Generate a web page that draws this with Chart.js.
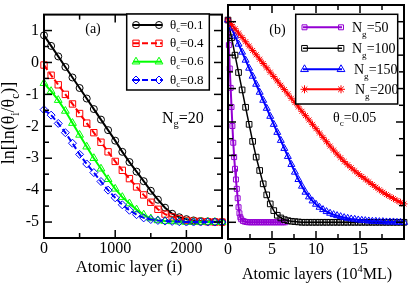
<!DOCTYPE html>
<html>
<head>
<meta charset="utf-8">
<title>ln[ln(θi/θc)] versus atomic layer</title>
<script src="https://cdn.jsdelivr.net/npm/chart.js"></script>
<style>
  html, body { margin:0; padding:0; background:#ffffff; }
  #wrap { position:relative; width:409px; height:285px; overflow:hidden; background:#ffffff; }
  #wrap canvas { position:absolute; left:0; top:0; }
</style>
</head>
<body>
<div id="wrap">
  <canvas id="chartA" width="409" height="285"></canvas>
  <canvas id="chartB" width="409" height="285"></canvas>
</div>
<script>
// ---------------- Panel (a): N_g = 20 ----------------
const layerA = [0,100,200,300,400,500,600,700,800,900,1000,1100,1200,1300,1400,1500,1600,1700,1800,1900,2000,2100,2200,2300,2400,2500];
const thetaC01 = [0.85,0.52,0.19,-0.14,-0.47,-0.80,-1.13,-1.46,-1.79,-2.12,-2.45,-2.80,-3.12,-3.42,-3.72,-4.02,-4.30,-4.55,-4.74,-4.85,-4.91,-4.95,-4.97,-4.98,-4.99,-5.00];
const thetaC04 = [-0.08,-0.40,-0.70,-1.00,-1.30,-1.60,-1.90,-2.20,-2.50,-2.80,-3.10,-3.38,-3.64,-3.90,-4.15,-4.38,-4.60,-4.75,-4.84,-4.90,-4.95,-4.97,-4.98,-4.99,-5.00,-5.00];
const thetaC06 = [-0.65,-0.90,-1.18,-1.52,-1.90,-2.27,-2.64,-3.00,-3.33,-3.66,-3.96,-4.22,-4.42,-4.61,-4.77,-4.89,-4.95,-4.97,-4.98,-4.99,-5.00,-5.00,-5.00,-5.00,-5.00,-5.00];
const thetaC08 = [-1.48,-1.65,-1.91,-2.20,-2.53,-2.88,-3.18,-3.45,-3.73,-4.00,-4.24,-4.46,-4.63,-4.77,-4.87,-4.92,-4.95,-4.97,-4.98,-4.99,-5.00,-5.00,-5.00,-5.00,-5.00,-5.00];
const thetaLabelsA = ['0.1','0.4','0.6','0.8'];
const xLabelsA = [0,1000,2000];
const xMajorA = [1000,2000];
const xMinorA = [500,1500];

// ---------------- Panel (b): θ_c = 0.05 ----------------
const layerB = [0,0.4,0.8,1.2,1.6,2,2.4,2.8,3.2,3.6,4,4.4,4.8,5.2,5.6,6,6.4,6.8,7.2,7.6,8,8.4,8.8,9.2,9.6,10,10.4,10.8,11.2,11.6,12,12.4,12.8,13.2,13.6,14,14.4,14.8,15.2,15.6,16,16.4,16.8,17.2,17.6,18,18.4,18.8,19.2,19.6,20];
const layerB50 = [0,0.1,0.2,0.3,0.4,0.5,0.6,0.7,0.8,0.9,1.0,1.1,1.2,1.3,1.4,1.5,1.7,1.9,2.1,2.3,2.5,2.7,2.9,3.1,3.3,3.5,3.7,3.9,4.1,4.3,4.5,4.7,4.9,5.1,5.3,5.5,5.7,5.9,6.1,6.3,6.5];
const ng50 = [1.05,0.30,-0.40,-0.98,-1.55,-2.12,-2.62,-3.05,-3.40,-3.72,-4.00,-4.28,-4.55,-4.73,-4.85,-4.91,-4.96,-4.98,-4.99,-5.00,-5.00,-5.00,-5.00,-5.00,-5.00,-5.00,-5.00,-5.00,-5.00,-5.00,-5.00,-5.00,-5.00,-5.00,-5.00,-5.00,-5.00,-5.00,-5.00,-5.00,-5.00];
const ng100 = [1.05,0.52,0.00,-0.52,-1.04,-1.56,-2.07,-2.58,-3.05,-3.45,-3.85,-4.18,-4.45,-4.65,-4.79,-4.87,-4.92,-4.95,-4.97,-4.98,-4.99,-5.00,-5.00,-5.00,-5.00,-5.00,-5.00,-5.00,-5.00,-5.00,-5.00,-5.00,-5.00,-5.00,-5.00,-5.00,-5.00,-5.00,-5.00,-5.00,-5.00,-5.00,-5.00,-5.00,-5.00,-5.00,-5.00,-5.00,-5.00,-5.00,-5.00];
const ng150 = [1.05,0.81,0.57,0.33,0.09,-0.15,-0.39,-0.63,-0.87,-1.11,-1.35,-1.59,-1.83,-2.07,-2.31,-2.55,-2.79,-3.03,-3.27,-3.50,-3.72,-3.92,-4.10,-4.24,-4.36,-4.46,-4.55,-4.62,-4.68,-4.73,-4.77,-4.80,-4.83,-4.86,-4.88,-4.90,-4.91,-4.93,-4.94,-4.95,-4.96,-4.97,-4.97,-4.98,-4.98,-4.99,-4.99,-4.99,-5.00,-5.00,-5.00];
const ng200 = [1.05,0.92,0.79,0.66,0.53,0.40,0.27,0.14,0.01,-0.12,-0.25,-0.38,-0.51,-0.64,-0.77,-0.90,-1.03,-1.16,-1.29,-1.42,-1.55,-1.68,-1.81,-1.94,-2.07,-2.20,-2.33,-2.46,-2.59,-2.72,-2.84,-2.96,-3.07,-3.18,-3.28,-3.37,-3.46,-3.55,-3.63,-3.71,-3.79,-3.87,-3.95,-4.03,-4.10,-4.17,-4.23,-4.29,-4.35,-4.40,-4.45];
const ngLabels = ['50','100','150','200'];
const xLabelsB = [0,5,10,15];
const xMajorB = [5,10,15];
const xMinorB = [2.5,7.5,12.5,17.5];

// shared y axis
const yLabels = [-5,-4,-3,-2,-1,0,1];
const yMinor = [-4.5,-3.5,-2.5,-1.5,-0.5,0.5];

// ---------------- helpers ----------------
const SERIF = '"Liberation Serif", "DejaVu Serif", serif';
const fnt = s => s + 'px ' + SERIF;
const PURPLE = '#9400d3', GREEN = '#00ff00';

function drawRich(ctx, parts, x, y, size, align) {
  const f = p => fnt(p[1] ? size * 0.65 : size);
  let w = 0;
  for (const p of parts) { ctx.font = f(p); w += ctx.measureText(p[0]).width; }
  let cx = align === 'center' ? x - w / 2 : x;
  ctx.textAlign = 'left';
  ctx.textBaseline = 'alphabetic';
  for (const p of parts) {
    ctx.font = f(p);
    const dy = p[1] === 1 ? size * 0.3 : (p[1] === 2 ? -size * 0.45 : 0);
    ctx.fillText(p[0], cx, y + dy);
    cx += ctx.measureText(p[0]).width;
  }
}

function marker(ctx, style, x, y, r) {
  ctx.beginPath();
  if (style === 'circle') {
    ctx.arc(x, y, r, 0, Math.PI * 2);
  } else if (style === 'rect') {
    const s = r * Math.SQRT1_2; ctx.rect(x - s, y - s, 2 * s, 2 * s);
  } else if (style === 'rectRot') {
    ctx.moveTo(x - r, y); ctx.lineTo(x, y - r); ctx.lineTo(x + r, y); ctx.lineTo(x, y + r); ctx.closePath();
  } else if (style === 'triangle') {
    let a = 0;
    ctx.moveTo(x + Math.sin(a) * r, y - Math.cos(a) * r);
    a += 2 * Math.PI / 3; ctx.lineTo(x + Math.sin(a) * r, y - Math.cos(a) * r);
    a += 2 * Math.PI / 3; ctx.lineTo(x + Math.sin(a) * r, y - Math.cos(a) * r);
    ctx.closePath();
  } else if (style === 'star') {
    const d = r * Math.SQRT1_2;
    ctx.moveTo(x - r, y); ctx.lineTo(x + r, y); ctx.moveTo(x, y - r); ctx.lineTo(x, y + r);
    ctx.moveTo(x - d, y - d); ctx.lineTo(x + d, y + d); ctx.moveTo(x - d, y + d); ctx.lineTo(x + d, y - d);
  }
  ctx.stroke();
}

function drawFrame(chart, xMaj, xMin, yMaj, yMin) {
  const {ctx, chartArea: a, scales: {x, y}} = chart;
  ctx.save();
  ctx.strokeStyle = '#000';
  ctx.setLineDash([]);
  ctx.lineWidth = 1.5;
  const seg = (x1, y1, x2, y2) => { ctx.beginPath(); ctx.moveTo(x1, y1); ctx.lineTo(x2, y2); ctx.stroke(); };
  const MAJ = 8, MIN = 5;
  xMaj.forEach(v => { const p = x.getPixelForValue(v); seg(p, a.bottom, p, a.bottom - MAJ); seg(p, a.top, p, a.top + MAJ); });
  xMin.forEach(v => { const p = x.getPixelForValue(v); seg(p, a.bottom, p, a.bottom - MIN); seg(p, a.top, p, a.top + MIN); });
  yMaj.forEach(v => { const p = y.getPixelForValue(v); seg(a.left, p, a.left + MAJ, p); seg(a.right, p, a.right - MAJ, p); });
  yMin.forEach(v => { const p = y.getPixelForValue(v); seg(a.left, p, a.left + MIN, p); seg(a.right, p, a.right - MIN, p); });
  ctx.lineWidth = 2;
  ctx.strokeRect(a.left, a.top, a.right - a.left, a.bottom - a.top);
  ctx.restore();
}

function drawLegend(ctx, box, rows, lx1, lx2, m1, m2, size) {
  ctx.save();
  ctx.fillStyle = '#fff';
  ctx.fillRect(box[0], box[1], box[2], box[3]);
  ctx.strokeStyle = '#000';
  ctx.lineWidth = 1.5;
  ctx.strokeRect(box[0], box[1], box[2], box[3]);
  rows.forEach(r => {
    ctx.strokeStyle = r.color;
    ctx.lineWidth = r.lw;
    ctx.setLineDash(r.dash);
    ctx.beginPath(); ctx.moveTo(lx1, r.y); ctx.lineTo(lx2, r.y); ctx.stroke();
    ctx.setLineDash([]);
    ctx.lineWidth = 1;
    marker(ctx, r.style, m1, r.y, r.r);
    marker(ctx, r.style, m2, r.y, r.r);
    ctx.fillStyle = '#000';
    drawRich(ctx, r.parts, r.tx, r.y + r.dy, size, 'left');
  });
  ctx.restore();
}

function series(xs, ys, color, style, radius, lw, dash, order) {
  return {
    data: xs.map((x, i) => ({x: x, y: ys[i]})),
    borderColor: color, borderWidth: lw, borderDash: dash,
    pointStyle: style, pointRadius: radius, pointBorderColor: color,
    pointBackgroundColor: 'rgba(0,0,0,0)', pointBorderWidth: 1,
    pointHoverRadius: radius, tension: 0, fill: false, clip: false, order: order
  };
}

function yScale(width, showLabels) {
  return {
    type: 'linear', min: -5.5, max: 1.5,
    border: {display: false}, grid: {display: false, drawTicks: false},
    ticks: {display: showLabels, padding: 5, color: '#000', font: {family: SERIF, size: 16}, callback: v => String(v)},
    afterBuildTicks: s => { s.ticks = yLabels.map(v => ({value: v})); },
    afterFit: s => { s.width = width; }
  };
}

function xScale(min, max, labels, height) {
  return {
    type: 'linear', min: min, max: max,
    border: {display: false}, grid: {display: false, drawTicks: false},
    ticks: {autoSkip: false, maxRotation: 0, padding: 1, color: '#000', font: {family: SERIF, size: 16}, callback: v => String(v)},
    afterBuildTicks: s => { s.ticks = labels.map(v => ({value: v})); },
    afterFit: s => { s.height = height; }
  };
}

const common = {
  responsive: false, animation: false, events: [],
  plugins: {legend: {display: false}, tooltip: {enabled: false}}
};

// ---------------- Chart (a) ----------------
new Chart(document.getElementById('chartA'), {
  type: 'line',
  data: {datasets: [
    series(layerA, thetaC01, '#000000', 'circle', 3.5, 2, [], 4),
    series(layerA, thetaC04, '#ff0000', 'rect', 4.5, 2, [6, 3], 3),
    series(layerA, thetaC06, GREEN, 'triangle', 4.5, 2, [], 2),
    series(layerA, thetaC08, '#0000ff', 'rectRot', 4, 2, [6, 3], 1)
  ]},
  options: Object.assign({}, common, {
    layout: {padding: {left: 0, right: 187, top: 3, bottom: 0}},
    scales: {x: xScale(0, 2500, xLabelsA, 47), y: yScale(44, true)}
  }),
  plugins: [{
    id: 'decorA',
    afterDatasetsDraw(chart) { drawFrame(chart, xMajorA, xMinorA, yLabels, yMinor); },
    afterDraw(chart) {
      const ctx = chart.ctx;
      ctx.save();
      ctx.fillStyle = '#000';
      // y title
      ctx.save();
      ctx.translate(14, 123);
      ctx.rotate(-Math.PI / 2);
      drawRich(ctx, [['ln[ln(θ', 0], ['i', 1], ['/θ', 0], ['c', 1], [')]', 0]], 0, 0, 18, 'center');
      ctx.restore();
      // x title
      drawRich(ctx, [['Atomic layer (i)', 0]], 129, 272, 16.5, 'center');
      // annotations
      drawRich(ctx, [['(a)', 0]], 93, 33, 14, 'center');
      drawRich(ctx, [['N', 0], ['g', 1], ['=20', 0]], 162, 122.5, 16, 'left');
      // legend
      const styles = [
        {color: '#000000', style: 'circle', r: 3.5, dash: []},
        {color: '#ff0000', style: 'rect', r: 4.5, dash: [6, 3]},
        {color: GREEN, style: 'triangle', r: 4.5, dash: []},
        {color: '#0000ff', style: 'rectRot', r: 4, dash: [6, 3]}
      ];
      const rowsY = [25, 43.3, 61.7, 80];
      const rows = thetaLabelsA.map((lab, i) => Object.assign({}, styles[i], {
        lw: 2, y: rowsY[i], tx: 170, dy: 3.5,
        parts: [['θ', 0], ['c', 1], ['=' + lab, 0]]
      }));
      drawLegend(ctx, [126.7, 14, 82.6, 76], rows, 133, 162, 136, 159, 13);
      ctx.restore();
    }
  }]
});

// ---------------- Chart (b) ----------------
new Chart(document.getElementById('chartB'), {
  type: 'line',
  data: {datasets: [
    series(layerB50, ng50, PURPLE, 'rect', 3.5, 2, [], 4),
    series(layerB, ng100, '#000000', 'rect', 4, 1.5, [], 3),
    series(layerB, ng150, '#0000ff', 'triangle', 4, 2, [], 2),
    series(layerB, ng200, '#ff0000', 'star', 3.5, 2, [], 1)
  ]},
  options: Object.assign({}, common, {
    layout: {padding: {left: 228, right: 4, top: 3, bottom: 0}},
    scales: {x: xScale(0, 20, xLabelsB, 46), y: yScale(0, false)}
  }),
  plugins: [{
    id: 'decorB',
    afterDatasetsDraw(chart) { drawFrame(chart, xMajorB, xMinorB, yLabels, yMinor); },
    afterDraw(chart) {
      const ctx = chart.ctx;
      ctx.save();
      ctx.fillStyle = '#000';
      drawRich(ctx, [['Atomic layers (10', 0], ['4', 2], ['ML)', 0]], 317, 279, 16, 'center');
      drawRich(ctx, [['(b)', 0]], 277.5, 34, 14, 'center');
      drawRich(ctx, [['θ', 0], ['c', 1], ['=0.05', 0]], 333, 121.5, 14, 'left');
      const styles = [
        {color: PURPLE, style: 'rect', r: 3.5, lw: 2},
        {color: '#000000', style: 'rect', r: 4, lw: 1.5},
        {color: '#0000ff', style: 'triangle', r: 4.5, lw: 2},
        {color: '#ff0000', style: 'star', r: 4, lw: 2}
      ];
      const rowsY = [27.3, 48.3, 69.3, 89.3];
      const tx = [352, 352, 354, 355];
      const rows = ngLabels.map((lab, i) => Object.assign({}, styles[i], {
        dash: [], y: rowsY[i], tx: tx[i], dy: 5,
        parts: [['N', 0], ['g', 1], ['=' + lab, 0]]
      }));
      drawLegend(ctx, [295.7, 14.3, 102, 89.7], rows, 303, 342, 304.5, 341, 14);
      ctx.restore();
    }
  }]
});
</script>
</body>
</html>
